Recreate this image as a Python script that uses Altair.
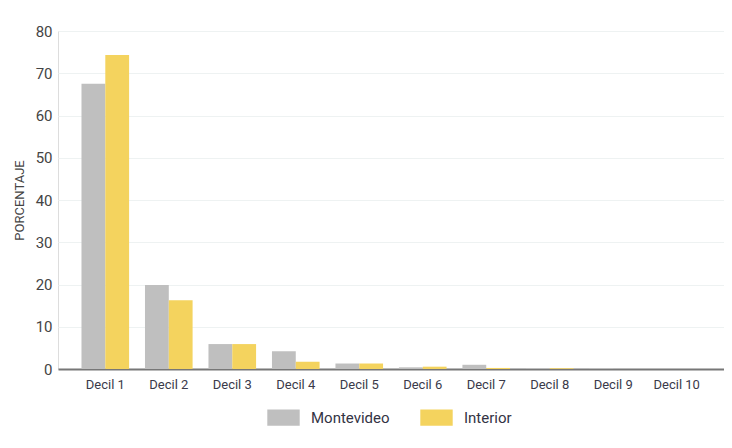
import altair as alt
import pandas as pd

deciles = ["Decil 1", "Decil 2", "Decil 3", "Decil 4", "Decil 5",
           "Decil 6", "Decil 7", "Decil 8", "Decil 9", "Decil 10"]
montevideo = [67.5, 19.9, 5.9, 4.2, 1.3, 0.4, 1.0, 0.2, 0.2, 0.0]
interior = [74.3, 16.3, 5.9, 1.7, 1.3, 0.55, 0.25, 0.2, 0.0, 0.0]
series = ["Montevideo", "Interior"]
colors = ["#bfbfbf", "#f4d35e"]

rows = []
for d, m, i in zip(deciles, montevideo, interior):
    rows.append({"decil": d, "region": "Montevideo", "valor": m})
    rows.append({"decil": d, "region": "Interior", "valor": i})
df = pd.DataFrame(rows)

font = "Roboto"

chart = alt.Chart(df).mark_bar().encode(
    x=alt.X("decil:N", sort=deciles, title=None,
            scale=alt.Scale(paddingInner=0.25, paddingOuter=0.37),
            axis=alt.Axis(labelAngle=0, ticks=False, domainColor="#777777",
                          domainWidth=2, labelFontSize=13, labelColor="#3a3a4a",
                          labelPadding=9, labelFont=font)),
    xOffset=alt.XOffset("region:N", sort=series, scale=alt.Scale(paddingInner=0, paddingOuter=0)),
    y=alt.Y("valor:Q", title="PORCENTAJE",
            scale=alt.Scale(domain=[0, 80]),
            axis=alt.Axis(values=[0, 10, 20, 30, 40, 50, 60, 70, 80], domain=False,
                          ticks=False, gridColor="#eef2f2", labelFontSize=15,
                          labelColor="#444444", titleFontSize=13, titleFontWeight="normal",
                          titleColor="#444444", labelFont=font, titleFont=font,
                          labelPadding=6, titlePadding=9)),
    color=alt.Color("region:N", sort=series,
                    scale=alt.Scale(domain=series, range=colors),
                    legend=alt.Legend(title=None, orient="none", direction="horizontal",
                                      legendX=209, legendY=370,
                                      symbolType="M-1,-0.5L1,-0.5L1,0.5L-1,0.5Z",
                                      symbolSize=1050, symbolStrokeWidth=0,
                                      labelFontSize=15, labelColor="#333344",
                                      labelFont=font, columnPadding=30, labelOffset=11,
                                      symbolOpacity=1)),
).properties(width=666, height=338).configure_view(stroke=None).configure(
    padding={"left": 5, "right": 0, "top": 16, "bottom": 0}
)

chart.save("out.html", embed_options={"renderer": "svg", "actions": False})
